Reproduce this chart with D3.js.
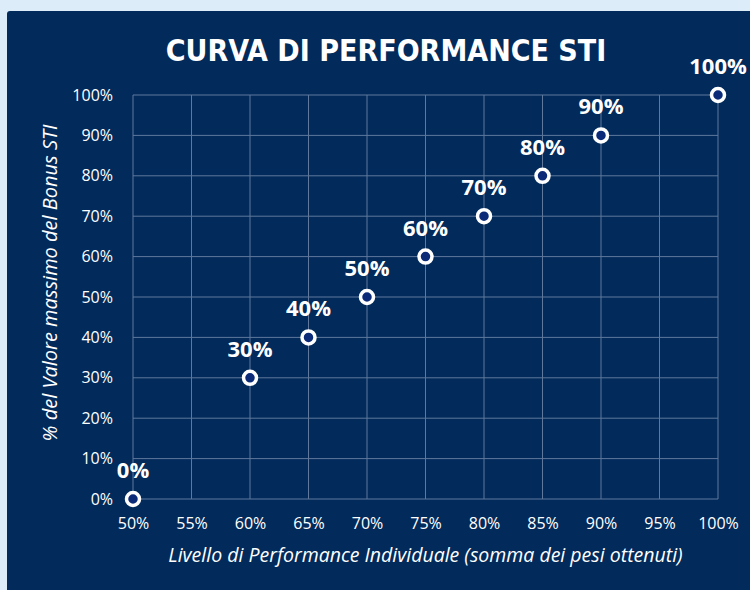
<html>
<head>
  <script src="https://d3js.org/d3.v7.min.js"></script>
  <style>
    body { margin: 0; background: #dcedf9; }
    text { font-family: "Open Sans", "DejaVu Sans", sans-serif; fill: #fff; }
  </style>
</head>
<body>
  <svg id="chart" width="750" height="590"></svg>
  <script>

  // performance level (x) vs % of max STI bonus (y)
  const perfLevels = [0.50, 0.60, 0.65, 0.70, 0.75, 0.80, 0.85, 0.90, 1.00];
  const bonusPct   = [0.00, 0.30, 0.40, 0.50, 0.60, 0.70, 0.80, 0.90, 1.00];
  const xTicks = [0.50, 0.55, 0.60, 0.65, 0.70, 0.75, 0.80, 0.85, 0.90, 0.95, 1.00];
  const yTicks = [0, 0.1, 0.2, 0.3, 0.4, 0.5, 0.6, 0.7, 0.8, 0.9, 1.0];

  const svg = d3.select("#chart");
  const margin = { top: 95, right: 32, bottom: 91, left: 133 };
  const width = 750 - margin.left - margin.right;
  const height = 590 - margin.top - margin.bottom;

  svg.append("rect")
    .attr("x", 7).attr("y", 11)
    .attr("width", 750).attr("height", 590)
    .attr("rx", 3)
    .attr("fill", "#022a5b");

  svg.append("text")
    .attr("x", 386).attr("y", 61)
    .attr("text-anchor", "middle")
    .style("font-family", "'DejaVu Sans', sans-serif")
    .style("font-stretch", "condensed")
    .style("font-weight", "bold")
    .style("font-size", "30px")
    .text("CURVA DI PERFORMANCE STI");

  const g = svg.append("g")
    .attr("transform", "translate(" + margin.left + "," + margin.top + ")");

  const x = d3.scaleLinear().domain([0.5, 1]).range([0, width]);
  const y = d3.scaleLinear().domain([0, 1]).range([height, 0]);
  const pct = d3.format(".0%");

  // grid
  g.append("g").selectAll("line").data(xTicks).join("line")
    .attr("x1", d => x(d)).attr("x2", d => x(d))
    .attr("y1", 0).attr("y2", height)
    .attr("stroke", "#5f789c").attr("stroke-width", 1);
  g.append("g").selectAll("line").data(yTicks).join("line")
    .attr("x1", 0).attr("x2", width)
    .attr("y1", d => y(d)).attr("y2", d => y(d))
    .attr("stroke", "#5f789c").attr("stroke-width", 1);

  // axes
  const xAxis = g.append("g")
    .attr("transform", "translate(0," + height + ")")
    .call(d3.axisBottom(x).tickValues(xTicks).tickFormat(pct).tickSize(0).tickPadding(19));
  const yAxis = g.append("g")
    .call(d3.axisLeft(y).tickValues(yTicks).tickFormat(pct).tickSize(0).tickPadding(20));
  [xAxis, yAxis].forEach(a => {
    a.select(".domain").remove();
    a.selectAll("text")
      .attr("fill", "#fff")
      .style("font-family", "'Open Sans', sans-serif")
      .style("font-size", "16px");
  });

  // axis titles
  svg.append("text")
    .attr("x", margin.left + width / 2).attr("y", 562)
    .attr("text-anchor", "middle")
    .style("font-style", "italic")
    .style("font-size", "19.5px")
    .text("Livello di Performance Individuale (somma dei pesi ottenuti)");

  svg.append("text")
    .attr("transform", "translate(57," + (margin.top + height / 2 - 14) + ") rotate(-90)")
    .attr("text-anchor", "middle")
    .style("font-style", "italic")
    .style("font-size", "20px")
    .text("% del Valore massimo del Bonus STI");

  const points = perfLevels.map((p, i) => ({ perf: p, bonus: bonusPct[i] }));

  g.selectAll("circle.pt").data(points).join("circle")
    .attr("class", "pt")
    .attr("cx", d => x(d.perf))
    .attr("cy", d => y(d.bonus))
    .attr("r", 6.5)
    .attr("fill", "#0b2a78")
    .attr("stroke", "#fff")
    .attr("stroke-width", 3.5);

  g.selectAll("text.lbl").data(points).join("text")
    .attr("class", "lbl")
    .attr("x", d => x(d.perf))
    .attr("y", d => y(d.bonus) - 21)
    .attr("text-anchor", "middle")
    .style("font-weight", "bold")
    .style("font-size", "22px")
    .text(d => pct(d.bonus));

  </script>
</body>
</html>
